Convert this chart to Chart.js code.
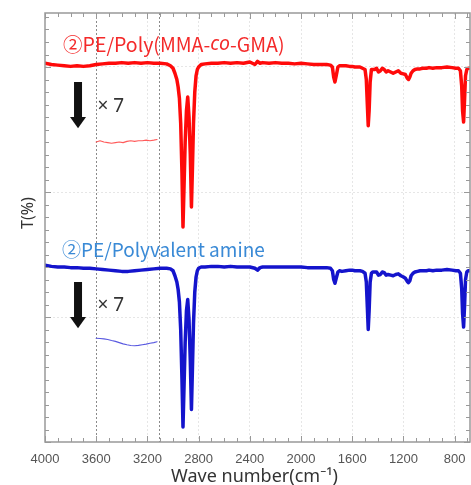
<!DOCTYPE html>
<html><head><meta charset="utf-8">
<script src="https://cdn.jsdelivr.net/npm/chart.js@4.4.1/dist/chart.umd.min.js"></script>
<style>html,body{margin:0;padding:0;background:#fff}#wrap{width:471px;height:485px}</style>
</head><body><div id="wrap"><canvas id="c"></canvas></div>
<script>
// ---- data ----
const waveNumbers = [4000,3950,3900,3850,3800,3750,3700,3650,3600,3550,3500,3450,3400,3350,3300,3250,3200,3150,3100,3050,3020,3000,2985,2970,2960,2950,2940,2930,2922,2915,2905,2895,2885,2875,2865,2856,2848,2840,2830,2820,2810,2800,2780,2750,2700,2650,2600,2550,2500,2450,2400,2360,2340,2320,2300,2250,2200,2150,2100,2050,2000,1950,1900,1850,1800,1770,1755,1745,1735,1725,1712,1700,1680,1650,1620,1600,1580,1560,1540,1520,1500,1490,1482,1475,1468,1460,1450,1440,1425,1410,1395,1380,1365,1350,1335,1320,1300,1280,1260,1240,1220,1200,1185,1170,1160,1150,1140,1125,1110,1090,1070,1050,1020,1000,970,940,900,860,820,790,770,755,745,738,730,722,715,705,695,680];
const redT = [30.3,30.2,30.15,30.1,30.05,30.1,30.05,30.1,30.2,30.25,30.3,30.3,30.35,30.3,30.35,30.3,30.35,30.3,30.3,30.25,30.1,29.9,29.5,29.0,28.4,27.5,25.5,21.5,17.2,20.0,24.0,26.5,27.6,26.0,23.0,18.8,22.0,25.5,28.0,29.3,29.8,30.0,30.2,30.25,30.3,30.3,30.35,30.3,30.35,30.3,30.4,30.2,30.45,30.3,30.35,30.3,30.35,30.3,30.3,30.25,30.3,30.25,30.2,30.2,30.2,30.15,30.0,29.2,28.8,29.3,30.0,30.1,30.1,30.1,30.05,30.05,30.0,30.0,30.0,29.9,29.8,29.0,27.0,25.3,26.5,28.8,29.8,29.8,29.8,29.9,29.6,29.7,29.9,29.8,29.6,29.7,29.6,29.5,29.6,29.7,29.5,29.45,29.4,29.1,29.0,29.2,29.5,29.7,29.8,29.85,29.85,29.9,29.9,29.95,29.9,29.95,29.95,30.0,29.95,29.9,29.9,29.7,28.5,26.5,25.6,27.5,29.3,29.8,29.9,29.9];
const blueT = [14.15,14.05,14.0,14.0,13.95,13.95,13.9,13.9,13.85,13.8,13.75,13.7,13.65,13.65,13.7,13.75,13.8,13.85,13.9,13.9,13.85,13.7,13.3,12.8,12.2,11.2,9.0,5.0,1.2,4.0,8.0,10.5,11.4,9.8,6.5,2.6,6.0,9.5,12.0,13.2,13.7,13.9,14.0,14.0,14.05,14.05,14.0,14.05,14.0,14.0,14.0,13.9,13.75,13.95,14.0,14.0,14.0,14.0,14.0,14.0,14.0,13.95,13.95,13.95,13.95,13.9,13.7,13.0,12.7,13.1,13.6,13.7,13.65,13.7,13.75,13.75,13.7,13.7,13.7,13.65,13.5,12.8,10.8,9.0,10.5,12.8,13.5,13.6,13.6,13.6,13.35,13.4,13.6,13.55,13.35,13.4,13.35,13.3,13.4,13.45,13.3,13.2,13.1,12.85,12.75,12.9,13.3,13.5,13.6,13.65,13.7,13.7,13.7,13.75,13.7,13.75,13.75,13.8,13.75,13.7,13.7,13.5,12.3,10.3,9.2,11.0,13.0,13.6,13.7,13.7];
// x7 magnified insets
const insetWaveNumbers = [3600,3570,3540,3510,3480,3450,3420,3390,3360,3330,3300,3270,3240,3210,3180,3150,3125];
const redInsetT  = [24.0,24.1,24.0,23.95,23.9,23.95,24.0,23.95,24.05,24.1,24.05,24.1,24.1,24.15,24.1,24.15,24.2];
const blueInsetT = [8.3,8.28,8.25,8.2,8.12,8.05,7.95,7.85,7.78,7.72,7.7,7.73,7.78,7.83,7.9,7.95,8.02];
const xTickLabels = [4000,3600,3200,2800,2400,2000,1600,1200,800];
const xMinorTicks = [4000,3900,3800,3700,3600,3500,3400,3300,3200,3100,3000,2900,2800,2700,2600,2500,2400,2300,2200,2100,2000,1900,1800,1700,1600,1500,1400,1300,1200,1100,1000,900,800,700];
const yMinorTicks = [0,1,2,3,4,5,6,7,8,9,10,11,12,13,14,15,16,17,18,19,20,21,22,23,24,25,26,27,28,29,30,31,32,33,34];
const yMajorTicks = [0,10,20,30];
const rangeMarkers = [3600,3110];
const seriesLabels = ['②PE/Poly(MMA-', 'co', '-GMA)'];
const blueLabel = '②PE/Polyvalent amine';

const pts = (xs, ys) => xs.map((x, i) => ({x, y: ys[i]}));

const decor = {
  id: 'decor',
  beforeDatasetsDraw(chart) {
    const {ctx, chartArea: a, scales: {x}} = chart;
    ctx.save();
    ctx.strokeStyle = '#8a8a8a'; ctx.lineWidth = 1; ctx.setLineDash([2, 2]);
    rangeMarkers.forEach(v => {
      const px = Math.round(x.getPixelForValue(v)) + 0.5;
      ctx.beginPath(); ctx.moveTo(px, a.top); ctx.lineTo(px, a.bottom); ctx.stroke();
    });
    ctx.restore();
  },
  afterDraw(chart) {
    const {ctx, chartArea: a, scales: {x, y}} = chart;
    ctx.save();
    // frame
    ctx.strokeStyle = '#999'; ctx.lineWidth = 1.5;
    ctx.strokeRect(a.left, a.top, a.right - a.left, a.bottom - a.top);
    // inward ticks
    ctx.lineWidth = 1; ctx.strokeStyle = '#999';
    xMinorTicks.forEach(v => {
      const px = Math.round(x.getPixelForValue(v)) + 0.5;
      const len = xTickLabels.includes(v) ? 6 : 4;
      ctx.beginPath();
      ctx.moveTo(px, a.bottom); ctx.lineTo(px, a.bottom - len);
      ctx.moveTo(px, a.top); ctx.lineTo(px, a.top + len);
      ctx.stroke();
    });
    yMinorTicks.forEach(v => {
      const py = Math.round(y.getPixelForValue(v)) + 0.5;
      const len = yMajorTicks.includes(v) ? 6 : 4;
      ctx.beginPath();
      ctx.moveTo(a.left, py); ctx.lineTo(a.left + len, py);
      ctx.moveTo(a.right, py); ctx.lineTo(a.right - len, py);
      ctx.stroke();
    });
    // arrows
    const arrow = (xv, yTop, yHead, yTip) => {
      const cx = x.getPixelForValue(xv);
      const t = y.getPixelForValue(yTop), h = y.getPixelForValue(yHead), tip = y.getPixelForValue(yTip);
      ctx.fillStyle = '#111';
      ctx.fillRect(cx - 4, t, 8, h - t + 1);
      ctx.beginPath(); ctx.moveTo(cx - 8, h); ctx.lineTo(cx + 8, h); ctx.lineTo(cx, tip); ctx.closePath(); ctx.fill();
    };
    arrow(3742, 28.8, 26.0, 25.1);
    arrow(3742, 12.8, 10.0, 9.1);
    ctx.fillStyle = '#333'; ctx.textBaseline = 'middle'; ctx.textAlign = 'left';
    ctx.font = '19px "Noto Sans"';
    ctx.fillText('× 7', x.getPixelForValue(3590), y.getPixelForValue(26.8));
    ctx.fillText('× 7', x.getPixelForValue(3590), y.getPixelForValue(10.9));
    // series labels
    let lx = x.getPixelForValue(3859), ly = y.getPixelForValue(31.8);
    ctx.fillStyle = '#f42a2a';
    const fN = '19.5px "Noto Sans CJK JP"', fI = 'italic 19.5px "Noto Sans"';
    seriesLabels.forEach((s, i) => {
      ctx.font = i === 1 ? fI : fN;
      ctx.fillText(s, lx, ly);
      lx += ctx.measureText(s).width;
    });
    ctx.fillStyle = '#3a8ad6'; ctx.font = '19px "Noto Sans CJK JP"';
    ctx.fillText(blueLabel, x.getPixelForValue(3867), y.getPixelForValue(15.4));
    // axis titles
    ctx.fillStyle = '#333'; ctx.textAlign = 'center';
    ctx.font = '18px "Noto Sans"';
    ctx.fillText('Wave number(cm⁻¹)', (a.left + a.right) / 2 - 3, 477);
    ctx.save();
    ctx.translate(28, 213); ctx.rotate(-Math.PI / 2);
    ctx.font = '16px "Noto Sans"';
    ctx.fillText('T(%)', 0, 0);
    ctx.restore();
    ctx.restore();
  }
};

new Chart(document.getElementById('c'), {
  type: 'line',
  data: {
    datasets: [
      {data: pts(waveNumbers, redT), borderColor: '#ff0a0a', borderWidth: 3.5},
      {data: pts(waveNumbers, blueT), borderColor: '#1414cc', borderWidth: 3.5},
      {data: pts(insetWaveNumbers, redInsetT), borderColor: '#ff5a5a', borderWidth: 1.2},
      {data: pts(insetWaveNumbers, blueInsetT), borderColor: '#5a5ae0', borderWidth: 1.2}
    ]
  },
  options: {
    responsive: true, maintainAspectRatio: false, animation: false,
    layout: {padding: {top: 13, right: 1, left: 0, bottom: 0}},
    plugins: {legend: {display: false}, tooltip: {enabled: false}},
    elements: {point: {radius: 0}, line: {tension: 0, borderJoinStyle: 'round', borderCapStyle: 'round'}},
    scales: {
      x: {
        type: 'linear', reverse: true, min: 680, max: 4000,
        afterBuildTicks: s => { s.ticks = xMinorTicks.map(v => ({value: v})); },
        afterFit: s => { s.height = 43; s.paddingLeft = 0; s.paddingRight = 0; },
        ticks: {autoSkip: false, maxRotation: 0, padding: 10, color: '#555',
                font: {family: 'Liberation Sans', size: 13},
                callback: v => xTickLabels.includes(v) ? String(v) : ''},
        grid: {drawTicks: false, lineWidth: 1,
               color: c => (c.tick && xTickLabels.includes(c.tick.value) && c.tick.value !== 4000) ? '#e6e6e6' : 'rgba(0,0,0,0)'},
        border: {display: false, dash: [2, 2]}
      },
      y: {
        type: 'linear', min: 0, max: 34.32,
        afterBuildTicks: s => { s.ticks = yMajorTicks.map(v => ({value: v})); },
        afterFit: s => { s.width = 45; s.paddingTop = 0; s.paddingBottom = 0; },
        ticks: {display: false},
        grid: {drawTicks: false, lineWidth: 1,
               color: c => (c.tick && c.tick.value !== 0) ? '#e6e6e6' : 'rgba(0,0,0,0)'},
        border: {display: false, dash: [2, 2]}
      }
    }
  },
  plugins: [decor]
});
</script></body></html>
